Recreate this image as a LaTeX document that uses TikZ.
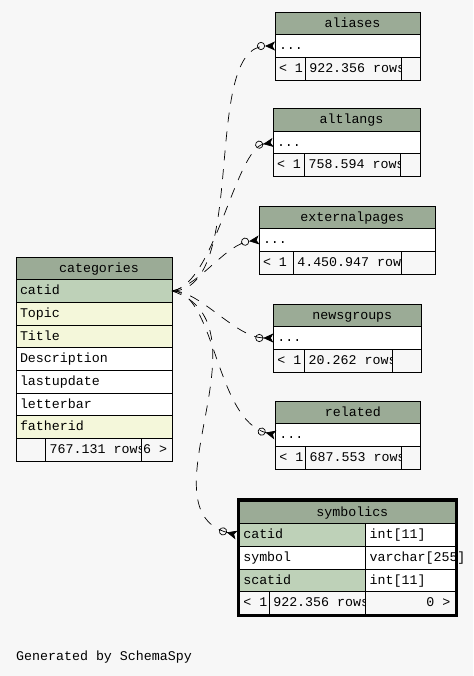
\documentclass[tikz,border=0pt]{standalone}
\usepackage{fontspec}
\setmonofont{Liberation Mono}
\usetikzlibrary{arrows.meta, positioning, fit}
\definecolor{erdback}{HTML}{F7F7F7}
\definecolor{erdhead}{HTML}{9BAB96}
\definecolor{erdkey}{HTML}{BED1B8}
\definecolor{erdindex}{HTML}{F4F7DA}
\newcommand{\erdfont}{\ttfamily\fontsize{13.3}{15}\selectfont}

\begin{document}
\begin{tikzpicture}[
        x=1pt, y=1pt,
        cell/.style={
            draw,
            line width=0.8pt,
            minimum height=22.67pt,
            inner ysep=0pt,
            outer sep=0pt,
            text height=10pt,
            text depth=2.5pt,
            font=\erdfont
        },
        header/.style={cell, fill=erdhead, execute at begin node={\hspace*{10pt}}},
        keycol/.style={cell, fill=erdkey},
        indexcol/.style={cell, fill=erdindex},
        plaincol/.style={cell, fill=white},
        footcell/.style={cell, fill=erdback},
        leftcell/.style={
            minimum width=#1, inner xsep=4pt,
            execute at begin node={\hbox to \dimexpr#1-8pt\relax\bgroup},
            execute at end node={\hss\egroup}
        },
        rightcell/.style={
            minimum width=#1, inner xsep=5pt,
            execute at begin node={\hbox to \dimexpr#1-10pt\relax\bgroup\hss},
            execute at end node={\egroup}
        },
        fklink/.style={
            dash pattern=on 10pt off 9pt,
            line width=0.7pt,
            -{Circle[open, length=8pt, width=8pt] Stealth[reversed, length=10pt, width=9pt, inset=2.5pt]}
        },
        frame/.style={draw, line width=2.5pt, inner sep=1.5pt}
    ]
        \fill[erdback] (0,0) rectangle (473,676);
        \useasboundingbox (0,0) rectangle (473,676);

        % categories
        \node[header, minimum width=156pt, anchor=north west] (categories) at (16,419) {categories};
        \node[keycol, leftcell=156pt, below=0pt of categories] (categories-catid) {catid};
        \node[indexcol, leftcell=156pt, below=0pt of categories-catid] (categories-topic) {Topic};
        \node[indexcol, leftcell=156pt, below=0pt of categories-topic] (categories-title) {Title};
        \node[plaincol, leftcell=156pt, below=0pt of categories-title] (categories-description) {Description};
        \node[plaincol, leftcell=156pt, below=0pt of categories-description] (categories-lastupdate) {lastupdate};
        \node[plaincol, leftcell=156pt, below=0pt of categories-lastupdate] (categories-letterbar) {letterbar};
        \node[indexcol, leftcell=156pt, below=0pt of categories-letterbar] (categories-fatherid) {fatherid};
        \node[footcell, leftcell=29.7pt, anchor=north west] (categories-f1) at (categories-fatherid.south west) {};
        \node[footcell, leftcell=96pt, right=0pt of categories-f1] (categories-f2) {767.131 rows};
        \node[footcell, rightcell=30.3pt, right=0pt of categories-f2] (categories-f3) {6 >};

        % aliases
        \node[header, minimum width=145pt, anchor=north west] (aliases) at (275,664) {aliases};
        \node[plaincol, leftcell=145pt, below=0pt of aliases] (aliases-row) {...};
        \node[footcell, leftcell=30.3pt, anchor=north west] (aliases-f1) at (aliases-row.south west) {< 1};
        \node[footcell, leftcell=96.4pt, right=0pt of aliases-f1] (aliases-f2) {922.356 rows};
        \node[footcell, leftcell=18.3pt, right=0pt of aliases-f2] (aliases-f3) {};

        % altlangs
        \node[header, minimum width=147pt, anchor=north west] (altlangs) at (273,567.5) {altlangs};
        \node[plaincol, leftcell=147pt, below=0pt of altlangs] (altlangs-row) {...};
        \node[footcell, leftcell=31.7pt, anchor=north west] (altlangs-f1) at (altlangs-row.south west) {< 1};
        \node[footcell, leftcell=96pt, right=0pt of altlangs-f1] (altlangs-f2) {758.594 rows};
        \node[footcell, leftcell=19.3pt, right=0pt of altlangs-f2] (altlangs-f3) {};

        % externalpages
        \node[header, minimum width=176.7pt, anchor=north west] (externalpages) at (259,470) {externalpages};
        \node[plaincol, leftcell=176.7pt, below=0pt of externalpages] (externalpages-row) {...};
        \node[footcell, leftcell=34.3pt, anchor=north west] (externalpages-f1) at (externalpages-row.south west) {< 1};
        \node[footcell, leftcell=107.7pt, right=0pt of externalpages-f1] (externalpages-f2) {4.450.947 rows};
        \node[footcell, leftcell=34.7pt, right=0pt of externalpages-f2] (externalpages-f3) {};

        % newsgroups
        \node[header, minimum width=148pt, anchor=north west] (newsgroups) at (273.3,372) {newsgroups};
        \node[plaincol, leftcell=148pt, below=0pt of newsgroups] (newsgroups-row) {...};
        \node[footcell, leftcell=31.4pt, anchor=north west] (newsgroups-f1) at (newsgroups-row.south west) {< 1};
        \node[footcell, leftcell=87.6pt, right=0pt of newsgroups-f1] (newsgroups-f2) {20.262 rows};
        \node[footcell, leftcell=29pt, right=0pt of newsgroups-f2] (newsgroups-f3) {};

        % related
        \node[header, minimum width=145pt, anchor=north west] (related) at (275.3,275) {related};
        \node[plaincol, leftcell=145pt, below=0pt of related] (related-row) {...};
        \node[footcell, leftcell=30.4pt, anchor=north west] (related-f1) at (related-row.south west) {< 1};
        \node[footcell, leftcell=96pt, right=0pt of related-f1] (related-f2) {687.553 rows};
        \node[footcell, leftcell=18.6pt, right=0pt of related-f2] (related-f3) {};

        % symbolics
        \node[header, minimum width=216pt, anchor=north west] (symbolics) at (239.3,175) {symbolics};
        \node[keycol, leftcell=126.4pt, anchor=north west] (symbolics-catid) at (symbolics.south west) {catid};
        \node[plaincol, leftcell=89.6pt, right=0pt of symbolics-catid] (symbolics-catid-type) {int[11]};
        \node[plaincol, leftcell=126.4pt, below=0pt of symbolics-catid] (symbolics-symbol) {symbol};
        \node[plaincol, leftcell=89.6pt, right=0pt of symbolics-symbol] (symbolics-symbol-type) {varchar[255]};
        \node[keycol, leftcell=126.4pt, below=0pt of symbolics-symbol] (symbolics-scatid) {scatid};
        \node[plaincol, leftcell=89.6pt, right=0pt of symbolics-scatid] (symbolics-scatid-type) {int[11]};
        \node[footcell, leftcell=30pt, anchor=north west] (symbolics-f1) at (symbolics-scatid.south west) {< 1};
        \node[footcell, leftcell=96.4pt, right=0pt of symbolics-f1] (symbolics-f2) {922.356 rows};
        \node[footcell, rightcell=89.6pt, right=0pt of symbolics-f2] (symbolics-f3) {0 >};
        \node[frame, fit=(symbolics) (symbolics-f3)] (symbolics-frame) {};

        \node[font=\erdfont, inner sep=0pt, anchor=base west] (credit) at (16,16) {Generated by SchemaSpy};

        % foreign keys
        \draw[fklink] (categories-catid.east)
            to[out=0, in=180, out distance=78pt, in distance=75pt] (aliases-row.west);
        \draw[fklink] (categories-catid.east)
            to[out=8, in=189, out distance=43pt, in distance=38pt] (altlangs-row.west);
        \draw[fklink] (categories-catid.east)
            to[out=12, in=187, out distance=29pt, in distance=34pt] (externalpages-row.west);
        \draw[fklink] (categories-catid.east)
            to[out=2, in=180, out distance=28pt, in distance=38pt] (newsgroups-row.west);
        \draw[fklink] (categories-catid.east)
            to[out=0, in=166, out distance=43pt, in distance=62pt] (related-row.west);
        \draw[fklink] (categories-catid.east)
            to[out=-18, in=165, out distance=108pt, in distance=100pt] (symbolics-frame.west |- symbolics-catid);
    \end{tikzpicture}
\end{document}
